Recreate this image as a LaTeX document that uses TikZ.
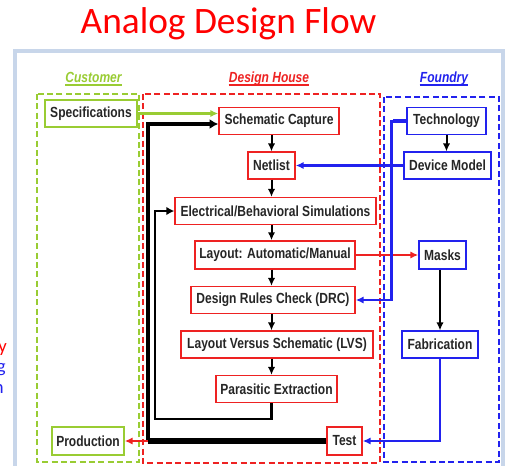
\documentclass[tikz,border=0pt]{standalone}
\usepackage{fontspec}
\setmainfont{Liberation Sans}
\newfontfamily\narrowfont{Liberation Sans}[FakeStretch=0.82]
\newfontfamily\titlefont{Carlito}
\usetikzlibrary{arrows.meta,shapes,calc}
\definecolor{custgreen}{HTML}{99CC33}
\definecolor{housered}{HTML}{EE2222}
\definecolor{foundblue}{HTML}{2222EE}
\definecolor{frameblue}{HTML}{C8D6EA}
\definecolor{boxtext}{HTML}{262626}
\tikzset{
    >={Latex[length=6pt,width=5.5pt]},
    stepbox/.style={draw, fill=white, line width=1.1pt, text=boxtext,
        font=\narrowfont\bfseries\fontsize{11}{13}\selectfont,
        minimum height=20pt, inner xsep=2pt, inner ysep=0pt},
    custbox/.style={stepbox, draw=custgreen},
    housebox/.style={stepbox, draw=housered},
    foundbox/.style={stepbox, draw=foundblue},
    zone/.style={dash pattern=on 4.5pt off 2.5pt, line width=0.8pt},
    header/.style={font=\narrowfont\bfseries\itshape\fontsize{11}{13}\selectfont, anchor=base, inner sep=0pt},
    flow/.style={->, line width=1.5pt},
}

\begin{document}
\begin{tikzpicture}[x=0.75pt, y=-0.75pt]
    \useasboundingbox (0,0) rectangle (507,465);
    \draw[frameblue, line width=2.5pt, fill=white] (15,51) rectangle (503,485);

    % title and column headers
    \node[text=red, anchor=base, inner sep=0pt, font=\titlefont\fontsize{28}{30}\selectfont] (title) at (228.5,33) {Analog Design Flow};
    \node[header, text=custgreen] (custhead) at (93.5,82) {Customer};
    \node[header, text=housered] (househead) at (269,82) {Design House};
    \node[header, text=foundblue] (foundhead) at (444,82) {Foundry};
    \foreach \h/\c in {custhead/custgreen, househead/housered, foundhead/foundblue}
        \draw[\c, line width=1.5pt] ([yshift=-2.5pt]\h.base west) -- ([yshift=-2.5pt]\h.base east);

    % cut-off text on the left
    \node[text=red, anchor=base east, inner sep=0pt, font=\titlefont\fontsize{14}{16}\selectfont] (fragy) at (7,352) {y};
    \node[text=foundblue, anchor=base east, inner sep=0pt, font=\titlefont\fontsize{14}{16}\selectfont] (fragg) at (6,372) {g};
    \node[text=foundblue, anchor=base east, inner sep=0pt, font=\titlefont\fontsize{14}{16}\selectfont] (fragn) at (4,393) {n};

    % zones
    \draw[zone, draw=custgreen] (37,94) rectangle (139,462);
    \draw[zone, draw=housered] (143,94) rectangle (380,463);
    \draw[zone, draw=foundblue] (384,97) rectangle (499,462);

    % customer
    \node[custbox, minimum width=69pt] (spec) at (91,113.5) {Specifications};
    \node[custbox, minimum width=54pt, minimum height=21pt] (prod) at (88,441) {Production};

    % design house
    \node[housebox, minimum width=90pt] (schem) at (279,121) {Schematic Capture};
    \node[housebox, minimum width=35.25pt] (netlist) at (271.5,165.5) {Netlist};
    \node[housebox, minimum width=150.75pt] (elec) at (275.5,211) {Electrical/Behavioral Simulations};
    \node[housebox, minimum width=120pt, minimum height=21pt] (layout) at (275,255) {Layout: Automatic/Manual};
    \node[housebox, minimum width=123pt] (drc) at (273,300) {Design Rules Check (DRC)};
    \node[housebox, minimum width=144pt] (lvs) at (277,344.5) {Layout Versus Schematic (LVS)};
    \node[housebox, minimum width=90.75pt] (parx) at (276.5,389) {Parasitic Extraction};
    \node[housebox, minimum width=26.25pt, minimum height=21pt] (test) at (344.5,441) {Test};

    % foundry
    \node[foundbox, minimum width=59.25pt] (tech) at (446.5,121) {Technology};
    \node[foundbox, minimum width=65.25pt] (devmod) at (447.5,165.5) {Device Model};
    \node[foundbox, minimum width=35.25pt, minimum height=21pt] (masks) at (442.5,255) {Masks};
    \node[foundbox, minimum width=57pt] (fab) at (440,344.5) {Fabrication};

    \coordinate (loopA) at (148,441);
    \coordinate (loopB) at (155,419);

    % main chain
    \foreach \a/\b in {schem/netlist, netlist/elec, elec/layout, layout/drc, drc/lvs, lvs/parx}
        \draw[flow] (\a.south -| netlist.center) -- (\b.north -| netlist.center);
    \draw[flow] (tech.south) -- (tech.south |- devmod.north);
    \draw[flow] (fab.north |- masks.south) -- (fab.north);

    % feedback loops
    \draw[flow, line width=2.2pt, {Latex[length=6pt,width=6.5pt]}-] (elec.west) -| (loopB) -| (parx.south -| netlist.center);
    \draw[line width=4.5pt] (test.west) -- (loopA);
    \draw[->, line width=3pt, >={Latex[length=6.5pt,width=7.5pt]}] (loopA) |- ([yshift=-2.25pt]schem.west);

    % cross links
    \draw[->, custgreen, line width=2pt] (spec.east) -- (spec.east -| schem.west);
    \draw[->, housered, line width=1.8pt] (loopA) -- (prod.east);
    \draw[->, housered, line width=1.8pt] (layout.east) -- (masks.west);
    \draw[->, foundblue, line width=2pt] (devmod.west) -- (netlist.east);
    \draw[foundblue, line width=3.5pt] (tech.west) -- ++(-13,0);
    \draw[->, foundblue, line width=2.2pt] (tech.west) -- ++(-15,0) |- (drc.east);
    \draw[->, foundblue, line width=2.2pt] (fab.south) |- (test.east);
\end{tikzpicture}
\end{document}
